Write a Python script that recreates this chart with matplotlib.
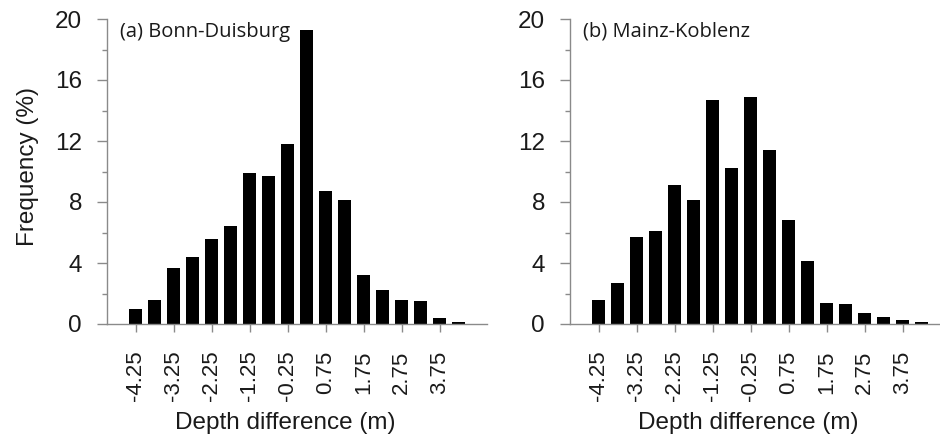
import matplotlib
matplotlib.use("Agg")
import matplotlib.pyplot as plt
from matplotlib.ticker import MultipleLocator

# bin centres of depth difference (m)
bins = [-4.25, -3.75, -3.25, -2.75, -2.25, -1.75, -1.25, -0.75, -0.25,
        0.25, 0.75, 1.25, 1.75, 2.25, 2.75, 3.25, 3.75, 4.25]
tick_pos = [-4.25, -3.25, -2.25, -1.25, -0.25, 0.75, 1.75, 2.75, 3.75]
tick_labels = ["-4.25", "-3.25", "-2.25", "-1.25", "-0.25", "0.75", "1.75", "2.75", "3.75"]

# frequency (%)
bonn_duisburg = [1.0, 1.6, 3.7, 4.4, 5.6, 6.4, 9.9, 9.7, 11.8,
                 19.3, 8.7, 8.1, 3.2, 2.2, 1.55, 1.5, 0.4, 0.15]
mainz_koblenz = [1.6, 2.7, 5.7, 6.1, 9.1, 8.1, 14.7, 10.2, 14.9,
                 11.4, 6.8, 4.1, 1.4, 1.3, 0.7, 0.45, 0.25, 0.12]

panels = [("(a) Bonn-Duisburg", bonn_duisburg), ("(b) Mainz-Koblenz", mainz_koblenz)]

plt.rcParams['font.family'] = ['Liberation Sans', 'DejaVu Sans']
axis_grey = "#8a8a8a"
txt = "#1a1a1a"

fig = plt.figure(figsize=(9.4, 4.34), dpi=100)
lefts = [107 / 940, 570 / 940]

for i, (title, vals) in enumerate(panels):
    ax = fig.add_axes([lefts[i], 110 / 434, 380 / 940, 305 / 434])
    ax.bar(bins, vals, width=0.35, color="black", edgecolor="none")

    ax.set_xlim(-5, 5)
    ax.set_ylim(0, 20)
    ax.yaxis.set_major_locator(MultipleLocator(4))
    ax.yaxis.set_minor_locator(MultipleLocator(2))
    ax.set_xticks(tick_pos)
    ax.set_xticklabels(tick_labels, rotation=90)

    for s in ["top", "right"]:
        ax.spines[s].set_visible(False)
    for s in ["left", "bottom"]:
        ax.spines[s].set_color(axis_grey)
        ax.spines[s].set_linewidth(1.0)

    ax.tick_params(axis="y", which="major", direction="out", length=7.2, width=1.0,
                   color=axis_grey, labelsize=17.5, labelcolor=txt, pad=10.8)
    ax.tick_params(axis="y", which="minor", direction="out", length=3.6, width=1.0,
                   color=axis_grey)
    ax.tick_params(axis="x", direction="out", length=6, width=1.0,
                   color=axis_grey, labelsize=16, labelcolor=txt, pad=13)

    ax.set_xlabel("Depth difference (m)", fontsize=17.5, color=txt)
    ax.xaxis.set_label_coords(0.47, -0.29)
    ax.xaxis.label.set_va("top")

    ax.text(0.035, 0.942, title, transform=ax.transAxes, fontsize=14.5,
            family=["Open Sans", "DejaVu Sans"], color=txt, va="baseline", ha="left")

    if i == 0:
        ax.set_ylabel("Frequency (%)", fontsize=17.5, color=txt)
        ax.yaxis.set_label_coords(-0.18, 0.515)

fig.savefig("out.png", dpi=100)
